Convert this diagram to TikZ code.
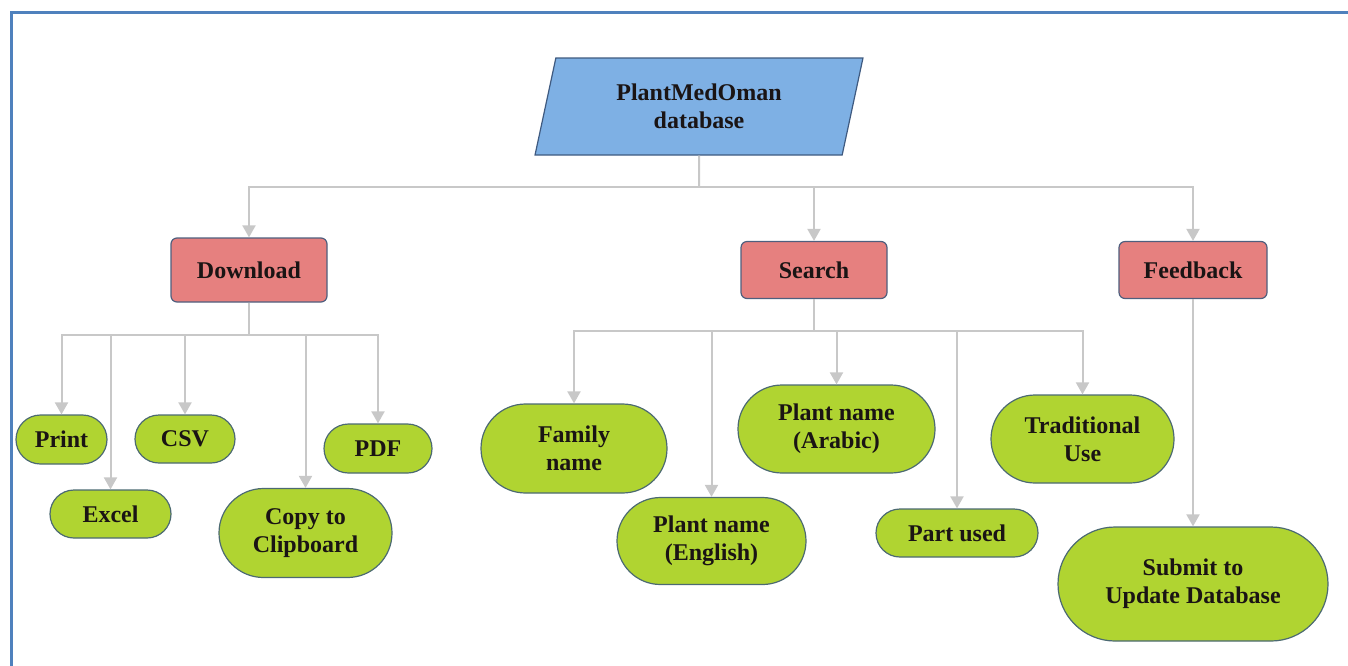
\documentclass[tikz,border=0pt]{standalone}
\usepackage{fontspec}
\setmainfont{Liberation Serif}
\usetikzlibrary{arrows.meta,shapes.geometric,shapes.misc}
\definecolor{FrameBlue}{HTML}{4F81BD}
\definecolor{DbFill}{HTML}{7EB0E4}
\definecolor{DbRule}{HTML}{3F5A80}
\definecolor{CatFill}{HTML}{E6807F}
\definecolor{CatRule}{HTML}{4F5F7E}
\definecolor{LeafFill}{HTML}{B0D431}
\definecolor{LeafRule}{HTML}{4C6A72}
\definecolor{Conn}{HTML}{C8C8C8}
\definecolor{Ink}{HTML}{1A1414}

\begin{document}
\begin{tikzpicture}[x=1pt, y=-1pt,
  txt/.style={font=\bfseries\fontsize{24}{28}\selectfont, text=Ink, align=center, inner sep=0pt},
  dbbox/.style={txt, trapezium, trapezium left angle=75, trapezium right angle=105,
                trapezium stretches=true, draw=DbRule, fill=DbFill, line width=1.2pt,
                minimum width=328pt, minimum height=97pt},
  cat/.style={txt, rectangle, rounded corners=6pt, draw=CatRule, fill=CatFill,
              line width=1.2pt, minimum height=57pt},
  leaf/.style={txt, rounded rectangle, draw=LeafRule, fill=LeafFill, line width=1.2pt},
  trunk/.style={draw=Conn, line width=2pt},
  arr/.style={trunk, -{Triangle[width=13pt,length=12pt]}}]
  \useasboundingbox (0,0) rectangle (1348,665);
  \draw[FrameBlue, line width=3pt] (11.5,12.5) rectangle (1380,700);

  \node[dbbox] (db) at (699,106.5) {PlantMedOman\\database};

  \node[cat, minimum width=156pt, minimum height=64pt] (dl) at (249,270) {Download};
  \node[cat, minimum width=146pt] (sr) at (814,270) {Search};
  \node[cat, minimum width=148pt] (fb) at (1193,270) {Feedback};

  \node[leaf, minimum width=91pt, minimum height=49pt] (pr) at (61.5,439.5) {Print};
  \node[leaf, minimum width=121pt, minimum height=48pt] (ex) at (110.5,514) {Excel};
  \node[leaf, minimum width=100pt, minimum height=48pt] (csv) at (185,439) {CSV};
  \node[leaf, minimum width=173pt, minimum height=89pt] (cp) at (305.5,533) {Copy to\\Clipboard};
  \node[leaf, minimum width=108pt, minimum height=49pt] (pdf) at (378,448.5) {PDF};

  \node[leaf, minimum width=186pt, minimum height=89pt] (fam) at (574,448.5) {Family\\name};
  \node[leaf, minimum width=189pt, minimum height=87pt] (eng) at (711.5,541) {Plant name\\(English)};
  \node[leaf, minimum width=197pt, minimum height=88pt] (arb) at (836.5,429) {Plant name\\(Arabic)};
  \node[leaf, minimum width=162pt, minimum height=48pt] (part) at (957,533) {Part used};
  \node[leaf, minimum width=183pt, minimum height=88pt] (trad) at (1082.5,439) {Traditional\\Use};

  \node[leaf, minimum width=270pt, minimum height=114pt] (sub) at (1193,584) {Submit to\\Update Database};

  \coordinate (j1) at (699,187);
  \coordinate (j2) at (249,335);
  \coordinate (j3) at (814,331);

  \draw[trunk] (db.south) -- (j1);
  \foreach \n in {dl,sr,fb} \draw[arr] (j1) -| (\n.north);
  \draw[trunk] (dl.south) -- (j2);
  \foreach \n in {pr,ex,csv,cp,pdf} \draw[arr] (j2) -| (\n.north);
  \draw[trunk] (sr.south) -- (j3);
  \foreach \n in {fam,eng,arb,part,trad} \draw[arr] (j3) -| (\n.north);
  \draw[arr] (fb.south) -- (sub.north);
\end{tikzpicture}
\end{document}
